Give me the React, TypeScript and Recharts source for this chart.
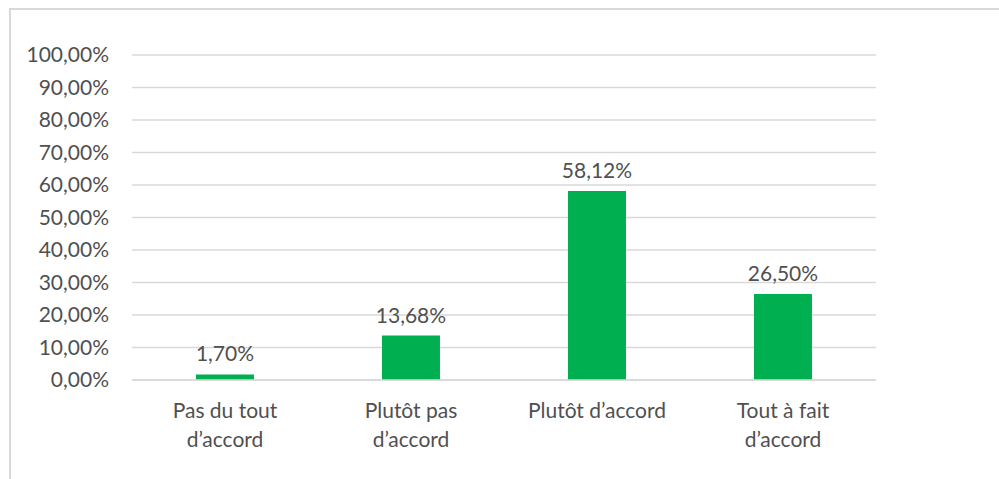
import React from "react";
import { BarChart, Bar, XAxis, YAxis, CartesianGrid, LabelList } from "recharts";

const categories = ["Pas du tout d’accord", "Plutôt pas d’accord", "Plutôt d’accord", "Tout à fait d’accord"];
const categoryLines = [
  ["Pas du tout", "d’accord"],
  ["Plutôt pas", "d’accord"],
  ["Plutôt d’accord"],
  ["Tout à fait", "d’accord"],
];
const shares = [0.017, 0.1368, 0.5812, 0.265];
const yTicks = [0, 0.1, 0.2, 0.3, 0.4, 0.5, 0.6, 0.7, 0.8, 0.9, 1];

const data = categories.map((name, i) => ({ name, value: shares[i], idx: i }));

const FONT = "Lato, 'Open Sans', sans-serif";
const TEXT = "#505050";
const GRID = "#d9d9d9";
const FS = 21;

const fmt = (v: number) => (v * 100).toFixed(2).replace(".", ",") + "%";

const CategoryTick = (props: any) => {
  const { x, y, payload } = props;
  const lines = categoryLines[payload.index] || [payload.value];
  return (
    <text x={x} y={y} textAnchor="middle" fill={TEXT} fontSize={FS} fontFamily={FONT}>
      {lines.map((line: string, i: number) => (
        <tspan key={i} x={x} dy={i === 0 ? 38 : 29}>
          {line}
        </tspan>
      ))}
    </text>
  );
};

const ValueLabel = (props: any) => {
  const { x, y, width, value } = props;
  return (
    <text x={x + width / 2} y={y - 13} textAnchor="middle" fill={TEXT} fontSize={FS} fontFamily={FONT}>
      {fmt(value)}
    </text>
  );
};

export default function App() {
  return (
    <div
      style={{
        position: "absolute",
        left: 0,
        top: 0,
        width: 999,
        height: 479,
        background: "#fff",
        overflow: "hidden",
      }}
    >
      <div
        style={{
          position: "absolute",
          left: 9,
          top: 8,
          width: 1020,
          height: 520,
          border: `2px solid ${GRID}`,
        }}
      />
      <div style={{ position: "absolute", left: 0, top: 0 }}>
        <BarChart
          width={999}
          height={479}
          data={data}
          margin={{ top: 55, right: 123, bottom: 69, left: 0 }}
          barCategoryGap="34.4%"
        >
          <CartesianGrid vertical={false} stroke={GRID} strokeWidth={1.5} />
          <XAxis
            dataKey="name"
            height={30}
            axisLine={{ stroke: GRID, strokeWidth: 1.5 }}
            tickLine={false}
            tickSize={0}
            tickMargin={0}
            interval={0}
            tick={<CategoryTick />}
          />
          <YAxis
            width={132}
            domain={[0, 1]}
            ticks={yTicks}
            interval={0}
            axisLine={false}
            tickLine={false}
            tickSize={0}
            tickMargin={23}
            tickFormatter={fmt}
            tick={{ fill: TEXT, fontSize: FS, fontFamily: FONT }}
          />
          <Bar dataKey="value" fill="#00B050" isAnimationActive={false}>
            <LabelList dataKey="value" content={<ValueLabel />} />
          </Bar>
        </BarChart>
      </div>
    </div>
  );
}
